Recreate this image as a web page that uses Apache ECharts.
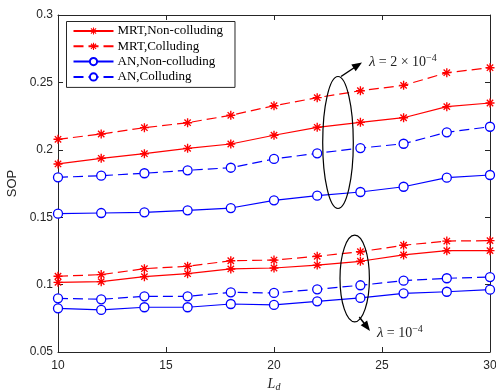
<!DOCTYPE html>
<html>
<head>
<meta charset="utf-8">
<script src="https://cdn.jsdelivr.net/npm/echarts@6/dist/echarts.min.js"></script>
<style>html,body{margin:0;padding:0;background:#fff}#c{width:496px;height:390px}</style>
</head>
<body>
<div id="c"></div>
<script>
const xValues = [10, 12, 14, 16, 18, 20, 22, 24, 26, 28, 30];
const xTicks = [10, 15, 20, 25, 30];
const yTicks = [0.05, 0.1, 0.15, 0.2, 0.25, 0.3];
const seriesNames = ['MRT,Non-colluding', 'MRT,Colluding', 'AN,Non-colluding', 'AN,Colluding'];

// lambda = 2e-4
const mrtNonColl_hi = [0.1895, 0.1937, 0.1971, 0.2011, 0.2043, 0.2108, 0.2167, 0.2204, 0.2238, 0.2320, 0.2347];
const mrtColl_hi    = [0.2078, 0.2117, 0.2164, 0.2201, 0.2256, 0.2327, 0.2387, 0.2438, 0.2478, 0.2572, 0.2609];
const anNonColl_hi  = [0.1526, 0.1531, 0.1536, 0.1551, 0.1568, 0.1625, 0.1660, 0.1687, 0.1726, 0.1793, 0.1813];
const anColl_hi     = [0.1796, 0.1808, 0.1826, 0.1848, 0.1867, 0.1932, 0.1974, 0.2013, 0.2045, 0.2130, 0.2171];
// lambda = 1e-4
const mrtNonColl_lo = [0.1017, 0.1022, 0.1059, 0.1081, 0.1116, 0.1123, 0.1145, 0.1173, 0.1220, 0.1252, 0.1252];
const mrtColl_lo    = [0.1062, 0.1074, 0.1118, 0.1136, 0.1177, 0.1182, 0.1210, 0.1244, 0.1292, 0.1323, 0.1326];
const anNonColl_lo  = [0.0824, 0.0812, 0.0832, 0.0832, 0.0856, 0.0849, 0.0876, 0.0901, 0.0935, 0.0947, 0.0962];
const anColl_lo     = [0.0898, 0.0891, 0.0913, 0.0913, 0.0943, 0.0938, 0.0965, 0.0995, 0.1029, 0.1047, 0.1056];

const RED = '#ff0000', BLUE = '#0000ff';
function rect(pts){return 'M' + pts.map(p => p[0].toFixed(3) + ',' + p[1].toFixed(3)).join(' L') + ' Z ';}
function rot(p, a){const c=Math.cos(a), s=Math.sin(a); return [p[0]*c - p[1]*s, p[0]*s + p[1]*c];}
const base = [[-5,-0.75],[5,-0.75],[5,0.75],[-5,0.75]];
let starPath = 'path://';
[0, Math.PI/4, Math.PI/2, 3*Math.PI/4].forEach(a => { starPath += rect(base.map(p => rot(p, a))); });

function pairs(arr){ return xValues.map((x, i) => [x, arr[i]]); }
function mk(name, data, color, dashed, star){
  return {
    name: name, type: 'line', data: pairs(data),
    symbol: star ? starPath : 'circle',
    symbolSize: 9,
    itemStyle: star ? { color: color, borderWidth: 0 } : { color: '#fff', borderColor: color, borderWidth: 1.3 },
    lineStyle: { color: color, width: 1.2, type: dashed ? [10, 5] : 'solid' },
    emphasis: { disabled: true }, animation: false, z: 3
  };
}

const series = [
  mk(seriesNames[0], mrtNonColl_hi, RED, false, true),
  mk(seriesNames[1], mrtColl_hi, RED, true, true),
  mk(seriesNames[2], anNonColl_hi, BLUE, false, false),
  mk(seriesNames[3], anColl_hi, BLUE, true, false),
  mk(seriesNames[0], mrtNonColl_lo, RED, false, true),
  mk(seriesNames[1], mrtColl_lo, RED, true, true),
  mk(seriesNames[2], anNonColl_lo, BLUE, false, false),
  mk(seriesNames[3], anColl_lo, BLUE, true, false)
];

const axisCol = '#262626';
const chart = echarts.init(document.getElementById('c'), null, {renderer: 'canvas'});
const serif2 = 'Liberation Serif';
chart.setOption({
  animation: false,
  backgroundColor: '#fff',
  grid: { left: 58, right: 6, top: 15, bottom: 38, containLabel: false, outerBoundsMode: 'none' },
  legend: {
    data: seriesNames, orient: 'vertical', left: 66.5, top: 21.5,
    itemWidth: 40, itemHeight: 9, itemGap: 0.3,
    padding: [2, 12, 3, 6],
    borderColor: axisCol, borderWidth: 1, backgroundColor: '#fff',
    textStyle: { fontFamily: serif2, fontSize: 13, lineHeight: 15, color: '#000', padding: [0,0,0,-1] },
    selectedMode: false
  },
  xAxis: [{
    type: 'value', min: 10, max: 30, interval: 5, position: 'bottom',
    axisLine: { lineStyle: { color: axisCol, width: 1 } },
    axisTick: { inside: true, length: 5, lineStyle: { color: axisCol } },
    axisLabel: { color: axisCol, fontFamily: 'Liberation Sans', fontSize: 12, margin: 8 },
    splitLine: { show: false },
    name: '{i|L}{s|d}', nameLocation: 'middle', nameGap: 23,
    nameTextStyle: { rich: {
      i: { fontFamily: serif2, fontStyle: 'italic', fontSize: 14, color: axisCol },
      s: { fontFamily: serif2, fontStyle: 'italic', fontSize: 10, color: axisCol, verticalAlign: 'bottom', padding: [6,0,0,0] }
    } }
  }, {
    type: 'value', min: 10, max: 30, interval: 5, position: 'top',
    axisLine: { lineStyle: { color: axisCol, width: 1 } },
    axisTick: { inside: true, length: 5, lineStyle: { color: axisCol } },
    axisLabel: { show: false }, splitLine: { show: false }
  }],
  yAxis: [{
    type: 'value', min: 0.05, max: 0.3, interval: 0.05, position: 'left',
    axisLine: { show: true, lineStyle: { color: axisCol, width: 1 } },
    axisTick: { show: true, inside: true, length: 5, lineStyle: { color: axisCol } },
    axisLabel: { color: axisCol, fontFamily: 'Liberation Sans', fontSize: 12, margin: 5,
      formatter: v => String(+v.toFixed(2)) },
    splitLine: { show: false },
    name: 'SOP', nameLocation: 'middle', nameGap: 38, nameRotate: 90,
    nameTextStyle: { fontFamily: 'Liberation Sans', fontSize: 13, color: axisCol }
  }, {
    type: 'value', min: 0.05, max: 0.3, interval: 0.05, position: 'right',
    axisLine: { show: true, lineStyle: { color: axisCol, width: 1 } },
    axisTick: { show: true, inside: true, length: 5, lineStyle: { color: axisCol } },
    axisLabel: { show: false }, splitLine: { show: false }
  }],
  series: series,
  graphic: [
    { type: 'ellipse', shape: { cx: 338, cy: 142.5, rx: 15.3, ry: 66 }, style: { fill: 'none', stroke: '#000', lineWidth: 1.2 }, z: 10 },
    { type: 'line', shape: { x1: 341, y1: 76.5, x2: 356, y2: 66.5 }, style: { stroke: '#000', lineWidth: 1.5 }, z: 10 },
    { type: 'polygon', shape: { points: [[362, 62.5], [355.7, 71.3], [351.3, 64.6]] }, style: { fill: '#000' }, z: 10 },
    { type: 'text', left: 369, top: 53, z: 10, style: {
      text: '{g|λ} {n|= 2 × 10}{s|−4}',
      rich: {
        g: { fontFamily: serif2, fontStyle: 'italic', fontSize: 15, fill: '#222' },
        n: { fontFamily: serif2, fontSize: 14, fill: '#222' },
        s: { fontFamily: serif2, fontSize: 10, fill: '#222', verticalAlign: 'top', padding: [0,0,8,0] }
      } } },
    { type: 'ellipse', shape: { cx: 354.7, cy: 278.5, rx: 14.7, ry: 43.3 }, style: { fill: 'none', stroke: '#000', lineWidth: 1.2 }, z: 10 },
    { type: 'line', shape: { x1: 359.3, y1: 317, x2: 367, y2: 327 }, style: { stroke: '#000', lineWidth: 1.5 }, z: 10 },
    { type: 'polygon', shape: { points: [[370, 331], [367.1, 320.4], [360.7, 325.2]] }, style: { fill: '#000' }, z: 10 },
    { type: 'text', left: 377, top: 324, z: 10, style: {
      text: '{g|λ} {n|= 10}{s|−4}',
      rich: {
        g: { fontFamily: serif2, fontStyle: 'italic', fontSize: 15, fill: '#222' },
        n: { fontFamily: serif2, fontSize: 14, fill: '#222' },
        s: { fontFamily: serif2, fontSize: 10, fill: '#222', verticalAlign: 'top', padding: [0,0,8,0] }
      } } }
  ]
});
</script>
</body>
</html>
